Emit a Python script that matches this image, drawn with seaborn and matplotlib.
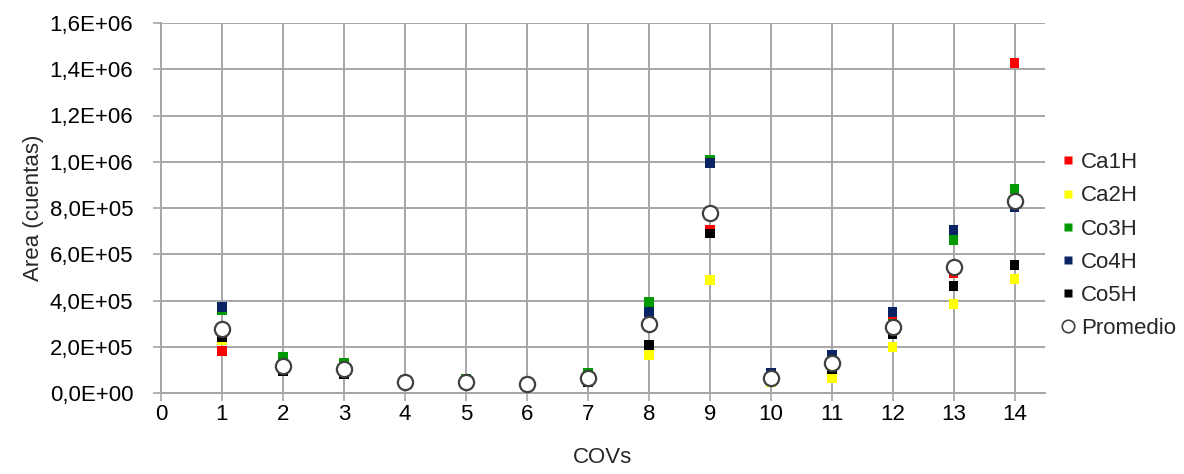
import matplotlib
matplotlib.use("Agg")
import matplotlib.pyplot as plt
import seaborn as sns
import pandas as pd
from matplotlib.lines import Line2D
from matplotlib.ticker import FuncFormatter, MultipleLocator

covs = [1, 2, 3, 4, 5, 6, 7, 8, 9, 10, 11, 12, 13, 14]
ca1h = [183e3, 110e3, 100e3, 45e3, 45e3, 35e3, 60e3, 370e3, 705e3, 60e3, 140e3, 324e3, 519e3, 1427e3]
ca2h = [229e3, 115e3, 95e3, 40e3, 40e3, 30e3, 55e3, 164e3, 489e3, 48e3, 65e3, 200e3, 385e3, 493e3]
co3h = [360e3, 155e3, 128e3, 58e3, 60e3, 48e3, 85e3, 394e3, 1007e3, 65e3, 160e3, 300e3, 662e3, 882e3]
co4h = [372e3, 110e3, 100e3, 50e3, 50e3, 45e3, 65e3, 350e3, 995e3, 86e3, 164e3, 350e3, 705e3, 804e3]
co5h = [242e3, 95e3, 80e3, 45e3, 45e3, 35e3, 48e3, 207e3, 690e3, 60e3, 104e3, 255e3, 463e3, 553e3]
promedio = [277e3, 117e3, 104e3, 48e3, 48e3, 38e3, 65e3, 297e3, 777e3, 63e3, 130e3, 285e3, 547e3, 832e3]

series_names = ["Ca1H", "Ca2H", "Co3H", "Co4H", "Co5H"]
series_vals = [ca1h, ca2h, co3h, co4h, co5h]
colors = ["#FF0000", "#FFFF00", "#009A00", "#0A2463", "#000000"]

rows = []
for name, vals in zip(series_names, series_vals):
    for c, v in zip(covs, vals):
        rows.append({"COVs": c, "Area": v, "Serie": name})
df = pd.DataFrame(rows)
df_prom = pd.DataFrame({"COVs": covs, "Area": promedio})

sns.set_theme(style="white")
plt.rcParams["font.family"] = ["Liberation Sans", "DejaVu Sans"]

fig = plt.figure(figsize=(11.84, 4.74), dpi=100)
ax = fig.add_axes([161 / 1184, 1 - 393 / 474, (1045 - 161) / 1184, (393 - 23) / 474])

sns.scatterplot(data=df, x="COVs", y="Area", hue="Serie", hue_order=series_names,
                palette=dict(zip(series_names, colors)), marker="s", s=50,
                edgecolor="none", linewidth=0, legend=False, ax=ax, zorder=3)
sns.scatterplot(data=df_prom, x="COVs", y="Area", marker="o", s=120,
                facecolor="white", edgecolor="#404040", linewidth=1.6,
                legend=False, ax=ax, zorder=4)

ax.set_xlim(0, 14.5)
ax.set_ylim(0, 1.6e6)
ax.xaxis.set_major_locator(MultipleLocator(1))
ax.yaxis.set_major_locator(MultipleLocator(2e5))
ax.yaxis.set_major_formatter(FuncFormatter(lambda v, p: f"{v:.1E}".replace(".", ",")))

ax.grid(True, color="#A6A6A6", linewidth=1.4)
ax.set_axisbelow(True)
for s in ["top", "right"]:
    ax.spines[s].set_visible(False)
for s in ["left", "bottom"]:
    ax.spines[s].set_color("#A6A6A6")
    ax.spines[s].set_linewidth(1.4)
ax.tick_params(axis="both", colors="#A6A6A6", labelcolor="black", labelsize=16,
               length=6, width=1.2, direction="out", bottom=True, left=True)
ax.tick_params(axis="y", pad=14)
ax.tick_params(axis="x", pad=2)

ax.set_xlabel("COVs", fontsize=16, labelpad=16)
ax.set_ylabel("Area (cuentas)", fontsize=16, labelpad=4)

handles = [Line2D([], [], linestyle="none", marker="s", markersize=6,
                  markerfacecolor=c, markeredgecolor="none") for c in colors]
handles.append(Line2D([], [], linestyle="none", marker="o", markersize=9,
                      markerfacecolor="white", markeredgecolor="#404040", markeredgewidth=1.2))
fig.legend(handles, series_names + ["Promedio"], loc="upper left",
           bbox_to_anchor=(1050 / 1184, 1 - 141 / 474), frameon=False,
           fontsize=16, handlelength=0.6, handletextpad=0.3, labelspacing=0.55,
           borderpad=0)

fig.savefig("out.png", dpi=100)
